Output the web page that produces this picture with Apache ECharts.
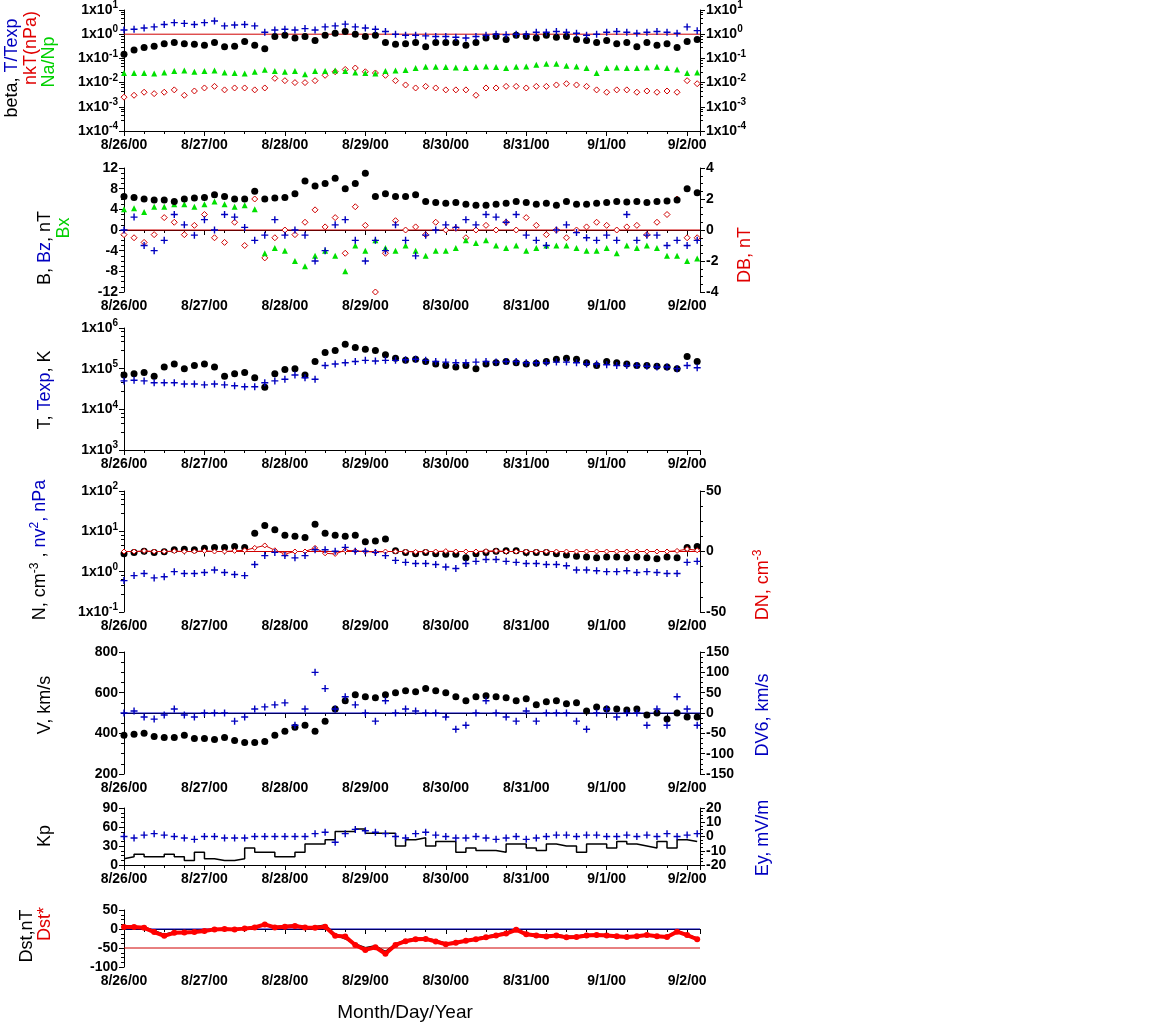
<!DOCTYPE html>
<html><head><meta charset="utf-8">
<script src="https://cdn.jsdelivr.net/npm/echarts@6/dist/echarts.min.js"></script>
<style>html,body{margin:0;background:#fff}#c{width:1152px;height:1026px}</style>
</head><body><div id="c"></div>
<script>
const dateLabels=['8/26/00','8/27/00','8/28/00','8/29/00','8/30/00','8/31/00','9/1/00','9/2/00'];
const beta=[.15,.22,.28,.32,.4,.45,.4,.38,.35,.45,.3,.32,.5,.35,.25,.8,.9,.7,.8,.55,.9,1.1,1.3,1.0,.8,.9,.45,.38,.4,.45,.3,.45,.45,.45,.35,.45,.7,.8,.6,.9,.8,.7,.9,.75,.8,.6,.55,.45,.55,.4,.45,.3,.45,.35,.4,.28,.5,.6];
const tRatio=[1.5,1.6,1.8,2.0,2.5,3.0,2.8,2.5,3.0,3.5,2.2,2.4,2.5,2.2,1.2,1.5,1.6,1.5,1.7,1.5,2.0,2.2,2.6,2.0,1.8,1.6,1.3,1.0,0.9,0.9,0.85,0.8,0.8,0.75,0.7,0.8,0.9,1.0,0.95,1.0,1.0,1.2,1.2,1.3,1.2,1.1,0.9,1.0,1.2,1.3,1.2,1.1,1.2,1.3,1.2,1.1,2.0,1.4];
const naNp=[.025,.025,.025,.024,.026,.03,.032,.028,.03,.032,.026,.025,.024,.028,.034,.03,.028,.03,.022,.03,.03,.032,.03,.026,.025,.024,.03,.032,.033,.04,.045,.045,.044,.042,.04,.044,.046,.044,.04,.045,.046,.055,.06,.06,.05,.046,.04,.025,.04,.042,.04,.04,.042,.045,.04,.035,.025,.026];
const nkT=[.0025,.003,.004,.0035,.004,.005,.003,.0045,.006,.007,.005,.006,.006,.005,.006,.015,.012,.01,.01,.012,.02,.028,.035,.04,.028,.025,.02,.012,.008,.006,.007,.006,.005,.005,.005,.003,.006,.006,.007,.007,.006,.007,.007,.008,.009,.008,.007,.005,.004,.005,.005,.004,.0045,.004,.0045,.004,.012,.009];
const B=[6.5,6.3,6,5.8,5.8,5.5,6,6.2,6.3,6.8,6.5,6,6,7.5,6,6.2,6.3,7,9.5,8.5,9,10,8,9,11,6.5,7,6.5,6.5,6.8,5.5,5.3,5.2,5.3,5,4.8,4.8,5,5.2,5.5,5.3,5,5.2,4.8,5.5,5,5,5.2,5.3,5.5,5.4,5.5,5.3,5.5,5.6,5.8,8,7.2];
const Bz=[0,2.5,-3,-4,-2,3,1,-1,2,0,3,2.5,0.5,-2,-1,2,-1,0,-1,-6,-4,1,2,-2,-6,-2,-4,1,-2,-5,-1,0,1,0.5,2,1,3,2.5,1.5,3,-1,-2,-3,0,1,-0.5,-1.5,-2,-1,-2,3,-2,-1,-1,-3,-2,-3,-2];
const Bx=[4,4.2,3.5,4.5,4.5,5,5,4.5,5,5.5,5,4.5,4.8,4,-4.5,-3.5,-4,-6,-7,-5,-4,-5,-8,-3,-4,-2,-3.5,-4,-3,-4,-5,-4,-4,-3.5,-2,-2.5,-2,-3,-3.5,-3,-4,-3.5,-3,-3,-3,-3.5,-4,-4,-3.5,-4.5,-3,-3.5,-3,-3.5,-5,-5,-6,-5.5];
const DB=[-0.3,-0.5,-0.8,-0.3,0.8,0.5,-0.3,0.3,1,-0.5,-0.8,0.5,-1,2,-1.8,-0.5,0,-0.3,0.5,1.3,0.2,0.8,-1.5,1.5,0.3,-4,-1.5,0.6,0,0.2,-0.3,0.5,0,0.1,-0.5,0,0.3,0,0.5,0,0.8,0.3,-0.3,0,-0.5,0,0.2,0.5,0.3,0,0.2,0.3,-0.3,0.5,1,2,-0.5,-0.5];
const Tp=[70e3,75e3,80e3,65e3,110e3,130e3,100e3,120e3,130e3,110e3,65e3,75e3,80e3,60e3,35e3,75e3,95e3,100e3,70e3,150e3,250e3,280e3,400e3,330e3,300e3,280e3,220e3,180e3,160e3,170e3,150e3,130e3,120e3,110e3,120e3,100e3,130e3,140e3,150e3,140e3,130e3,135e3,150e3,170e3,180e3,170e3,140e3,120e3,150e3,140e3,130e3,120e3,120e3,115e3,110e3,100e3,200e3,150e3];
const Texp=[50e3,52e3,50e3,45e3,45e3,45e3,42e3,42e3,40e3,42e3,40e3,38e3,36e3,36e3,45e3,50e3,55e3,70e3,60e3,55e3,120e3,130e3,140e3,150e3,160e3,155e3,160e3,160e3,165e3,170e3,160e3,150e3,145e3,140e3,140e3,145e3,150e3,145e3,150e3,150e3,140e3,140e3,140e3,145e3,145e3,140e3,130e3,130e3,125e3,120e3,120e3,120e3,115e3,110e3,110e3,100e3,120e3,105e3];
const Np=[2.8,3,3.2,3,3.1,3.5,3.6,3.5,3.8,4,4,4.2,4,9,14,11,8,7.5,7,15,9,8,7.5,8,5.5,5.8,6.5,3.3,3,2.8,3,2.8,2.7,2.7,2.2,2.8,3,3.2,3.3,3.3,3,3,3,2.8,2.6,2.4,2.3,2.2,2.3,2.3,2.2,2.3,2.2,2.1,2.3,2.2,4,4.2];
const nv2=[0.6,0.8,0.9,0.7,0.75,1,0.9,0.9,0.95,1.1,0.95,0.85,0.8,1.5,2.5,3,2.5,2.2,2.5,3.5,3.5,3.2,4,3.2,3.2,3,2.5,1.9,1.7,1.6,1.6,1.5,1.3,1.2,1.6,1.8,2,2,1.8,1.7,1.6,1.6,1.5,1.5,1.4,1.1,1.1,1.05,1.0,1.0,1.05,0.95,1.0,0.95,0.9,0.9,1.7,1.8];
const DN=[0,0,0.5,0,0,0.3,0,0,0.5,0,0,0.5,1,3,5,1,-2,0,0,3,-1.5,-2,1,0.5,0,-0.5,0,0,0,-0.3,0,0,0.3,0,0,0,0.3,0.5,0,0,0,0,0,0,0,0,0,0,0,0,0,0,0,0,0,0.5,2,1];
const V=[390,395,400,385,380,380,390,375,375,370,380,365,355,355,360,390,410,430,440,410,460,520,560,590,580,575,590,600,610,605,620,610,600,580,560,580,585,580,575,560,570,540,555,560,545,550,510,530,520,520,515,520,490,500,470,500,480,480];
const DV6=[0,5,-10,-15,-5,10,-5,-10,0,0,0,-20,-10,10,15,20,25,-30,10,100,60,10,40,20,0,-20,30,0,10,5,0,0,-10,-40,-30,0,30,0,-10,-20,5,-20,0,0,0,-20,-40,0,10,-10,0,0,-30,10,-30,40,10,-30];
const Kp=[10,13,17,13,13,17,13,7,20,10,7,7,10,27,20,20,13,13,20,33,33,40,53,53,57,50,50,50,30,40,43,30,37,37,20,27,23,23,20,33,33,27,23,33,30,30,20,33,33,27,37,33,30,27,37,27,40,37];
const Ey=[0,-1,1,2,1,0,-1,-2,0,0,-1,-1,-1,0,0,0,0,0,0,2,3,-4,2,5,4,3,2,0,-1,2,3,1,0,-1,-1,0,-1,-2,-1,0,-2,-1,0,1,1,0,1,1,0,0,1,0,1,0,2,0,1,2];
const Dst=[5,5,5,-5,-15,-8,-8,-7,-5,0,0,0,2,5,12,5,8,10,5,5,10,-15,-25,-40,-50,-45,-60,-40,-30,-25,-25,-30,-38,-35,-30,-25,-20,-15,-10,0,-12,-15,-18,-15,-20,-20,-15,-15,-15,-18,-20,-18,-15,-18,-20,-5,-15,-25];
const DstStar=[5,5,3,-8,-18,-10,-9,-8,-5,-1,0,-1,1,4,12,4,6,8,4,3,6,-18,-20,-42,-55,-48,-65,-42,-32,-27,-26,-33,-40,-36,-31,-27,-22,-17,-12,-2,-14,-17,-20,-17,-22,-21,-17,-16,-17,-19,-21,-19,-16,-19,-21,-7,-16,-27];

const STEP=0.125;
const pts=a=>a.map((v,i)=>[i*STEP,v]);
const FONT='Liberation Sans';
const XMAX=7.16;
const plus='path://M4,0h2v10h-2zM0,4h10v2h-10z';
const grids=[[10,121],[168,124],[328,122],[491,121],[652,122],[808,57],[910,57]];
const lbl={fontFamily:FONT,fontWeight:'bold',fontSize:14,color:'#000'};
const logFmt=v=>{const e=Math.round(Math.log10(v));return '{a|1x10}{s|'+e+'}';};
const logLbl=Object.assign({},lbl,{formatter:logFmt,rich:{a:{fontFamily:FONT,fontWeight:'bold',fontSize:14,color:'#000'},s:{fontFamily:FONT,fontWeight:'bold',fontSize:10,color:'#000',padding:[0,0,9,0]}}});
const axLine={show:true,lineStyle:{color:'#000',width:1}};
const xAxes=grids.map((g,i)=>({type:'value',gridIndex:i,min:0,max:XMAX,interval:1,axisLine:axLine,
  axisTick:{show:true,length:5,lineStyle:{color:'#000'}},minorTick:{show:true,splitNumber:4,length:3,lineStyle:{color:'#000'}},
  splitLine:{show:false},axisLabel:Object.assign({},lbl,{showMaxLabel:false,margin:7,formatter:v=>dateLabels[Math.round(v)]||''})}));
function lin(gi,min,max,interval,right,show){return {type:'value',gridIndex:gi,min,max,interval,position:right?'right':'left',
  axisLine:Object.assign({},axLine,{show:show!==false}),axisTick:{show:show!==false,length:5,lineStyle:{color:'#000'}},
  minorTick:{show:show!==false,splitNumber:4,length:3,lineStyle:{color:'#000'}},splitLine:{show:false},
  axisLabel:Object.assign({},lbl,{show:show!==false,margin:6})};}
function logAx(gi,min,max,right){return {type:'log',logBase:10,gridIndex:gi,min,max,position:right?'right':'left',
  axisLine:axLine,axisTick:{show:true,length:5,lineStyle:{color:'#000'}},minorTick:{show:true,splitNumber:5,length:3,lineStyle:{color:'#000'}},
  splitLine:{show:false},axisLabel:Object.assign({},logLbl,{margin:6})};}
const yAxes=[
  logAx(0,1e-4,10,false), logAx(0,1e-4,10,true),
  lin(1,-12,12,4,false), lin(1,-4,4,2,true),
  logAx(2,1e3,1e6,false),
  logAx(3,0.1,100,false), lin(3,-50,50,50,true),
  lin(4,200,800,200,false), lin(4,-150,150,50,true),
  lin(5,0,90,30,false), lin(5,-20,20,10,true),
  lin(6,-100,50,50,false)
];
function sc(name,x,y,data,sym,size,color,empty,z){return {type:'scatter',name,xAxisIndex:x,yAxisIndex:y,data:pts(data),symbol:sym,symbolSize:size,z:z||2,
  itemStyle:empty?{color:'#fff',borderColor:color,borderWidth:1,opacity:1}:{color:color,opacity:1},silent:true};}
function hline(x,y,val,color){return {type:'line',xAxisIndex:x,yAxisIndex:y,data:[[0,val],[XMAX,val]],symbol:'none',lineStyle:{color,width:1},z:1,silent:true};}
const series=[
  hline(0,0,1,'#d00000'),
  sc('nkT',0,0,nkT,'diamond',6,'#d00000',true),
  sc('NaNp',0,0,naNp,'triangle',6,'#00e000'),
  sc('beta',0,0,beta,'circle',7,'#000'),
  sc('TTexp',0,0,tRatio,plus,7,'#0000c0',false,4),
  hline(1,2,0,'#d00000'),
  sc('DB',1,3,DB,'diamond',6,'#d00000',true),
  sc('Bx',1,2,Bx,'triangle',6,'#00e000'),
  sc('B',1,2,B,'circle',7,'#000'),
  sc('Bz',1,2,Bz,plus,7,'#0000c0',false,4),
  sc('T',2,4,Tp,'circle',7,'#000'),
  sc('Texp',2,4,Texp,plus,7,'#0000c0',false,4),
  hline(3,6,0,'#d00000'),
  sc('N',3,5,Np,'circle',7,'#000'),
  {type:'line',xAxisIndex:3,yAxisIndex:6,data:pts(DN),symbol:'diamond',symbolSize:5,showAllSymbol:true,lineStyle:{color:'#d00000',width:1},itemStyle:{color:'#fff',borderColor:'#d00000',borderWidth:1},z:3,silent:true},
  sc('nv2',3,5,nv2,plus,7,'#0000c0',false,4),
  hline(4,8,0,'#0000c0'),
  sc('V',4,7,V,'circle',7,'#000'),
  sc('DV6',4,8,DV6,plus,7,'#0000c0',false,4),
  {type:'line',step:'start',xAxisIndex:5,yAxisIndex:9,data:pts(Kp),symbol:'none',lineStyle:{color:'#000',width:1.5},silent:true},
  sc('Ey',5,10,Ey,plus,7,'#0000c0',false,4),
  hline(6,11,0,'#0000c0'),
  hline(6,11,-50,'#d00000'),
  {type:'line',xAxisIndex:6,yAxisIndex:11,data:pts(Dst),symbol:'none',lineStyle:{color:'#000',width:2},z:3,silent:true},
  {type:'line',xAxisIndex:6,yAxisIndex:11,data:pts(DstStar),symbol:'circle',symbolSize:6,showAllSymbol:true,lineStyle:{color:'#ff0000',width:4},itemStyle:{color:'#ff0000'},z:4,silent:true}
];
const nf={fontFamily:FONT,fontSize:18};
function vt(x,y,rich,text){return {type:'text',x,y,rotation:Math.PI/2,style:{text,rich,fontFamily:FONT,fontSize:18,align:'center',verticalAlign:'middle'}};}
const sup=c=>({fontFamily:FONT,fontSize:12,fill:c,padding:[0,0,10,0]});
const R={k:Object.assign({fill:'#000'},nf),b:Object.assign({fill:'#0000c0'},nf),r:Object.assign({fill:'#e00000'},nf),g:Object.assign({fill:'#00d000'},nf),
  ks:sup('#000'),bs:sup('#0000c0'),rs:sup('#e00000')};
const graphic=[
  vt(12,68,R,'{k|beta, }{b|T/Texp}'),
  vt(31,48,R,'{r|nkT(nPa)}'),
  vt(49,62,R,'{g|Na/Np}'),
  vt(45,248,R,'{k|B, }{b|Bz}{k|, nT}'),
  vt(64,228,R,'{g|Bx}'),
  vt(745,255,R,'{r|DB, nT}'),
  vt(45,390,R,'{k|T, }{b|Texp}{k|, K}'),
  vt(40,550,R,'{k|N, cm}{ks|-3}{k| , }{b|nv}{bs|2}{b|, nPa}'),
  vt(763,585,R,'{r|DN, cm}{rs|-3}'),
  vt(45,705,R,'{k|V, km/s}'),
  vt(763,715,R,'{b|DV6, km/s}'),
  vt(45,836,R,'{k|Kp}'),
  vt(763,838,R,'{b|Ey, mV/m}'),
  vt(27,936,R,'{k|Dst,nT}'),
  vt(45,924,R,'{r|Dst*}'),
  {type:'text',x:405,y:1013,style:{text:'Month/Day/Year',fontFamily:FONT,fontSize:19,fill:'#000',align:'center',verticalAlign:'middle'}}
];
const chart=echarts.init(document.getElementById('c'));
chart.setOption({animation:false,backgroundColor:'#fff',
  grid:grids.map(g=>({left:124,width:576,top:g[0],height:g[1]})),
  xAxis:xAxes,yAxis:yAxes,series,graphic});
</script></body></html>
